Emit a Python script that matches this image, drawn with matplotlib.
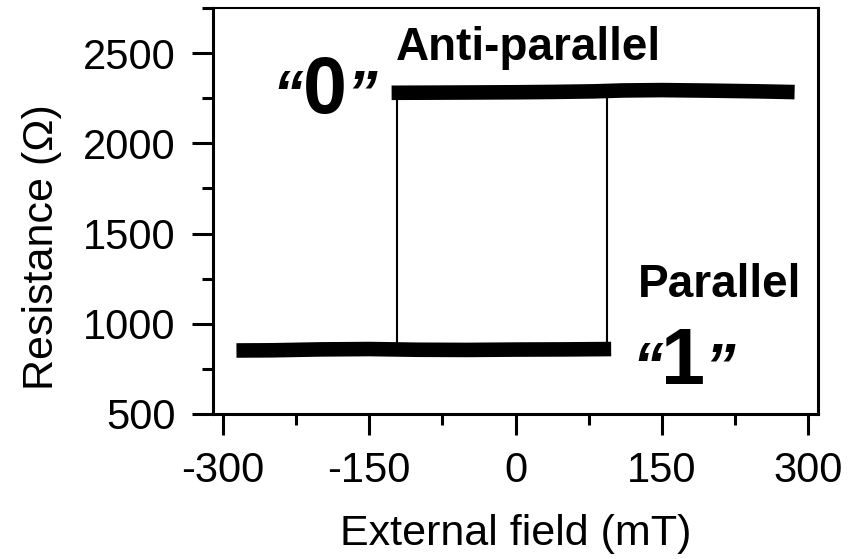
import matplotlib
matplotlib.use('Agg')
import matplotlib.pyplot as plt
from matplotlib.ticker import MultipleLocator

plt.rcParams['font.family'] = ['Liberation Sans', 'DejaVu Sans']
plt.rcParams['axes.unicode_minus'] = False

# parallel (low resistance) branch, sweeping up
p_field = [-286, -250, -200, -150, -100, -50, 0, 50, 98]
p_res = [852, 853, 858, 860, 856, 855, 857, 858, 860]

# anti-parallel (high resistance) branch, sweeping back
ap_field = [-127, -80, -40, 0, 40, 80, 110, 150, 200, 250, 286]
ap_res = [2280, 2281, 2282, 2283, 2285, 2288, 2293, 2295, 2292, 2288, 2284]

# switching fields
sw_field = [-121, 94]
sw_low = 880
sw_high = 2255

fig = plt.figure(figsize=(8.66, 5.59), dpi=100)
ax = fig.add_axes([0.246, 0.2594, 0.6986, 0.7263])

ax.plot(p_field, p_res, color='black', lw=10.5, solid_capstyle='butt')
ax.plot(ap_field, ap_res, color='black', lw=10.5, solid_capstyle='butt')
ax.vlines(sw_field, sw_low, sw_high, color='black', lw=1.5)

ax.set_xlim(-310, 310)
ax.set_ylim(500, 2750)
ax.set_xticks([-300, -150, 0, 150, 300])
ax.set_yticks([500, 1000, 1500, 2000, 2500])
ax.xaxis.set_minor_locator(MultipleLocator(75))
ax.yaxis.set_minor_locator(MultipleLocator(250))

ax.tick_params(which='major', direction='out', length=15, width=2.2, labelsize=30, pad=12)
ax.tick_params(which='minor', direction='out', length=8, width=2.2)
ax.tick_params(top=False, right=False, which='both')
for s in ax.spines.values():
    s.set_linewidth(2.2)
ax.spines['top'].set_linewidth(1.5)

ax.set_xlabel('External field (mT)', fontsize=31, labelpad=16)
ax.set_ylabel('Resistance (\u03a9)', fontsize=31)
ax.yaxis.set_label_coords(-0.25, 0.41)

ax.text(-123, 2528, 'Anti-parallel', fontsize=33, fontweight='bold', ha='left', va='center')
ax.text(125, 1215, 'Parallel', fontsize=33, fontweight='bold', ha='left', va='center')

ax.text(-195, 2284, '0', fontsize=57, fontweight='bold', ha='center', va='center')
ax.text(-218, 2255, '\u201c', fontsize=44, fontweight='bold', style='italic', ha='right', va='center')
ax.text(-173, 2255, '\u201d', fontsize=44, fontweight='bold', style='italic', ha='left', va='center')
ax.text(172, 782, '1', fontsize=57, fontweight='bold', ha='center', va='center')
ax.text(151, 745, '\u201c', fontsize=44, fontweight='bold', style='italic', ha='right', va='center')
ax.text(194, 745, '\u201d', fontsize=44, fontweight='bold', style='italic', ha='left', va='center')

fig.savefig('out.png', dpi=100)
